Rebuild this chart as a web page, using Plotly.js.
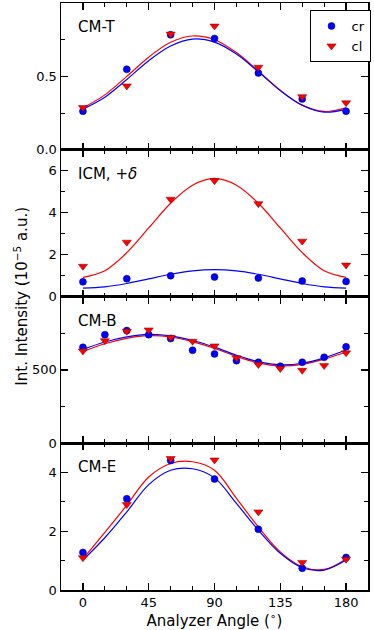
<!DOCTYPE html>
<html>
<head>
<meta charset="utf-8">
<script src="https://cdn.plot.ly/plotly-3.0.1.min.js"></script>
<style>
  html, body { margin: 0; padding: 0; background: #fff; }
  #plot { width: 374px; height: 630px; }
</style>
</head>
<body>
<div id="plot"></div>
<script>
// Кути аналізатора
const angle7 = [0, 30, 60, 90, 120, 150, 180];
const angle13 = [0, 15, 30, 45, 60, 75, 90, 105, 120, 135, 150, 165, 180];
const fitAngle = [0, 15, 30, 45, 60, 75, 90, 105, 120, 135, 150, 165, 180];

// CM-T
const cmT_cr = [0.263, 0.548, 0.783, 0.758, 0.523, 0.346, 0.263];
const cmT_cl = [0.288, 0.435, 0.788, 0.843, 0.562, 0.362, 0.320];
const cmT_crFit = [0.277, 0.358, 0.479, 0.607, 0.707, 0.754, 0.733, 0.652, 0.531, 0.403, 0.303, 0.256, 0.277];
const cmT_clFit = [0.286, 0.374, 0.500, 0.631, 0.732, 0.775, 0.750, 0.662, 0.536, 0.405, 0.304, 0.261, 0.286];

// ICM, +delta
const icm_cr = [0.70, 0.85, 0.99, 0.93, 0.88, 0.74, 0.72];
const icm_cl = [1.44, 2.59, 4.64, 5.52, 4.43, 2.64, 1.50];
const icm_crFit = [0.40, 0.46, 0.62, 0.84, 1.06, 1.22, 1.28, 1.22, 1.06, 0.84, 0.62, 0.46, 0.40];
const icm_clFit = [0.91, 1.23, 2.09, 3.27, 4.45, 5.31, 5.63, 5.31, 4.45, 3.27, 2.09, 1.23, 0.91];

// CM-B
const cmB_cr = [654, 740, 768, 740, 713, 634, 609, 563, 552, 525, 552, 586, 657];
const cmB_cl = [629, 699, 763, 772, 722, 695, 663, 582, 536, 509, 497, 529, 616];
const cmB_crFit = [640, 690, 725, 742, 732, 700, 655, 600, 556, 535, 545, 582, 635];
const cmB_clFit = [625, 678, 715, 733, 724, 692, 646, 592, 548, 527, 537, 573, 622];

// CM-E
const cmE_cr = [1.28, 3.11, 4.41, 3.78, 2.07, 0.74, 1.11];
const cmE_cl = [1.10, 2.91, 4.48, 4.43, 2.66, 0.94, 1.05];
const cmE_crFit = [1.02, 1.78, 2.66, 3.59, 4.08, 4.13, 3.82, 2.95, 2.04, 1.25, 0.76, 0.68, 1.02];
const cmE_clFit = [1.06, 1.96, 2.89, 3.85, 4.31, 4.37, 4.08, 3.12, 2.15, 1.30, 0.79, 0.70, 1.06];

const blue = '#0000ff';
const red = '#ff0000';
const font = 'DejaVu Sans, sans-serif';

// Панель: дві лінії фіту + дві серії точок
const panel = (n, xs, cr, cl, crFit, clFit, legend) => {
    const ax = n === 1 ? '' : String(n);
    return [
        { x: fitAngle, y: clFit, xaxis: 'x' + ax, yaxis: 'y' + ax, mode: 'lines',
          line: { color: red, width: 1.2, shape: 'spline' }, showlegend: false, hoverinfo: 'skip' },
        { x: fitAngle, y: crFit, xaxis: 'x' + ax, yaxis: 'y' + ax, mode: 'lines',
          line: { color: blue, width: 1.2, shape: 'spline' }, showlegend: false, hoverinfo: 'skip' },
        { x: xs, y: cr, xaxis: 'x' + ax, yaxis: 'y' + ax, mode: 'markers', name: 'cr',
          marker: { symbol: 'circle', size: 7, color: blue, line: { color: '#00007f', width: 0.5 } },
          showlegend: legend },
        { x: xs, y: cl, xaxis: 'x' + ax, yaxis: 'y' + ax, mode: 'markers', name: 'cl',
          marker: { symbol: 'triangle-down', size: 8, color: red, line: { color: '#7f0000', width: 0.5 } },
          showlegend: legend }
    ];
};

const data = [
    ...panel(1, angle7, cmT_cr, cmT_cl, cmT_crFit, cmT_clFit, true),
    ...panel(2, angle7, icm_cr, icm_cl, icm_crFit, icm_clFit, false),
    ...panel(3, angle13, cmB_cr, cmB_cl, cmB_crFit, cmB_clFit, false),
    ...panel(4, angle7, cmE_cr, cmE_cl, cmE_crFit, cmE_clFit, false)
];

const xAxis = (anchor, labels) => ({
    anchor: anchor, range: [-15, 195], showgrid: false, zeroline: false,
    showline: true, linecolor: '#000', linewidth: 1.5, mirror: 'allticks',
    ticks: 'inside', ticklen: 7, tickwidth: 1.5, tickcolor: '#000',
    tickmode: 'array', tickvals: [0, 45, 90, 135, 180],
    minor: { tickmode: 'array', tickvals: [15, 30, 60, 75, 105, 120, 150, 165], ticks: 'inside', ticklen: 4, tickwidth: 1, tickcolor: '#000' },
    showticklabels: labels, tickfont: { size: 13, color: '#000' }
});

const yAxis = (anchor, domain, range, vals, text, minorVals) => ({
    anchor: anchor, domain: domain, range: range, showgrid: false, zeroline: false,
    showline: true, linecolor: '#000', linewidth: 1.5, mirror: 'allticks',
    ticks: 'inside', ticklen: 7, tickwidth: 1.5, tickcolor: '#000',
    tickmode: 'array', tickvals: vals, ticktext: text,
    minor: { tickmode: 'array', tickvals: minorVals, ticks: 'inside', ticklen: 4, tickwidth: 1, tickcolor: '#000' },
    tickfont: { size: 13, color: '#000' }
});

const label = (yref, text) => ({
    xref: 'x domain', yref: yref, x: 0.05, y: 1, yshift: -24, xanchor: 'left', yanchor: 'middle',
    text: text, showarrow: false, font: { size: 15, color: '#000' }
});

const x4 = xAxis('y4', true);
x4.title = { text: 'Analyzer Angle (<sup>∘</sup>)', font: { size: 15, color: '#000' }, standoff: 0 };

const layout = {
    width: 374, height: 630,
    margin: { l: 61, r: 5, t: 3, b: 40 },
    paper_bgcolor: '#fff', plot_bgcolor: '#fff',
    font: { family: font, color: '#000' },
    xaxis: xAxis('y', false),
    xaxis2: xAxis('y2', false),
    xaxis3: xAxis('y3', false),
    xaxis4: x4,
    yaxis: yAxis('x', [0.75, 1], [0, 1.0], [0, 0.5], ['0.0', '0.5'], [0.25, 0.75]),
    yaxis2: yAxis('x2', [0.5, 0.75], [0, 7], [0, 2, 4, 6], ['0', '2', '4', '6'], [1, 3, 5]),
    yaxis3: yAxis('x3', [0.25, 0.5], [0, 1000], [0, 500], ['0', '500'], [250, 750]),
    yaxis4: yAxis('x4', [0, 0.25], [0, 5], [0, 2, 4], ['0', '2', '4'], [1, 3]),
    legend: {
        x: 0.81, y: 0.988, xanchor: 'left', yanchor: 'top',
        bgcolor: '#fff', bordercolor: '#000', borderwidth: 1,
        font: { size: 13, color: '#000' }, itemwidth: 30, tracegroupgap: 0
    },
    annotations: [
        label('y domain', 'CM-T'),
        label('y2 domain', 'ICM, +<i>δ</i>'),
        label('y3 domain', 'CM-B'),
        label('y4 domain', 'CM-E'),
        { xref: 'paper', yref: 'paper', x: -0.133, y: 0.5, textangle: -90,
          xanchor: 'center', yanchor: 'middle', showarrow: false,
          text: 'Int. Intensity (10<sup>−5</sup> a.u.)', font: { size: 15, color: '#000' } }
    ]
};

Plotly.newPlot('plot', data, layout, { displayModeBar: false, staticPlot: true });
</script>
</body>
</html>
